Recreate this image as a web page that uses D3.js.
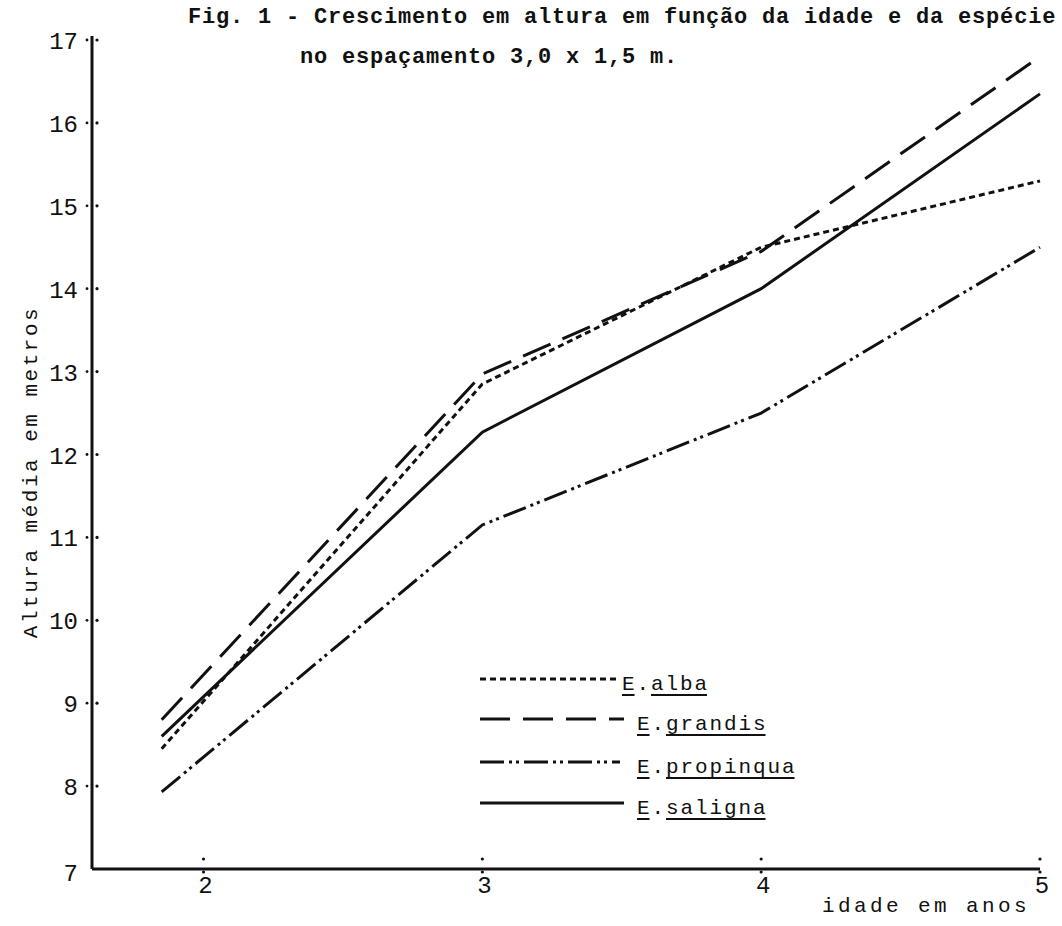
<!DOCTYPE html>
<html>
<head>
<meta charset="utf-8">
<script src="https://cdn.jsdelivr.net/npm/d3@7"></script>
<style>
  body { margin: 0; background: #fff; }
  svg text { font-family: "Liberation Mono", "DejaVu Sans Mono", monospace; fill: #111; }
</style>
</head>
<body>
<figure id="chart" style="margin:0"></figure>
<script>
const ages = [1.85, 3, 4, 5];
const alba = [8.45, 12.85, 14.5, 15.3];
const grandis = [8.8, 12.97, 14.45, 16.8];
const propinqua = [7.93, 11.15, 12.5, 14.5];
const saligna = [8.6, 12.27, 14.0, 16.35];
const xTicks = [2, 3, 4, 5];
const yTicks = [8, 9, 10, 11, 12, 13, 14, 15, 16, 17];
const seriesNames = ["E.alba", "E.grandis", "E.propinqua", "E.saligna"];

const width = 1062, height = 926;
const dashes = ["6,4", "30,13", "24,5,3,4,3,5", null];
const series = [alba, grandis, propinqua, saligna];

const svg = d3.select("figure#chart")
  .append("svg")
  .attr("width", width)
  .attr("height", height);

const x = d3.scaleLinear().domain([1.6, 5]).range([92, 1040]);
const y = d3.scaleLinear().domain([7, 17]).range([869, 40]);

// axes
svg.append("line")
  .attr("x1", x(1.6)).attr("x2", x(1.6))
  .attr("y1", y(17) - 4).attr("y2", y(7))
  .attr("stroke", "#111").attr("stroke-width", 3);
svg.append("line")
  .attr("x1", x(1.6)).attr("x2", x(5))
  .attr("y1", y(7)).attr("y2", y(7))
  .attr("stroke", "#111").attr("stroke-width", 3);

// Y ticks: dots next to the axis
const yg = svg.append("g");
yg.selectAll("circle.a").data(yTicks).enter().append("circle")
  .attr("cx", x(1.6) + 5).attr("cy", d => y(d)).attr("r", 1.6).attr("fill", "#111");
yg.selectAll("circle.b").data(yTicks).enter().append("circle")
  .attr("cx", x(1.6) - 5).attr("cy", d => y(d)).attr("r", 1.4).attr("fill", "#111");
yg.selectAll("text").data(yTicks.concat([7])).enter().append("text")
  .attr("x", x(1.6) - 14)
  .attr("y", d => y(d) + (d === 7 ? 12 : 9))
  .attr("text-anchor", "end")
  .attr("font-size", 24)
  .text(d => d);

// X ticks
const xg = svg.append("g");
xg.selectAll("circle.a").data(xTicks).enter().append("circle")
  .attr("cx", d => x(d)).attr("cy", y(7) - 10).attr("r", 1.6).attr("fill", "#111");
xg.selectAll("circle.b").data(xTicks).enter().append("circle")
  .attr("cx", d => x(d)).attr("cy", y(7) + 3).attr("r", 1.6).attr("fill", "#111");
xg.selectAll("text").data(xTicks).enter().append("text")
  .attr("x", d => x(d) + 2)
  .attr("y", y(7) + 24)
  .attr("text-anchor", "middle")
  .attr("font-size", 24)
  .text(d => d);

svg.append("text")
  .attr("x", 1030).attr("y", 912)
  .attr("text-anchor", "end")
  .attr("font-size", 21)
  .attr("letter-spacing", 3.4)
  .text("idade em anos");

svg.append("text")
  .attr("transform", "translate(37,472) rotate(-90)")
  .attr("text-anchor", "middle")
  .attr("font-size", 21)
  .attr("letter-spacing", 2.5)
  .text("Altura média em metros");

// title
svg.append("text")
  .attr("x", 188).attr("y", 23)
  .attr("font-size", 22)
  .attr("font-weight", "bold")
  .attr("letter-spacing", 0.8)
  .text("Fig. 1 - Crescimento em altura em função da idade e da espécie");
svg.append("text")
  .attr("x", 300).attr("y", 63)
  .attr("font-size", 22)
  .attr("font-weight", "bold")
  .attr("letter-spacing", 0.8)
  .text("no espaçamento 3,0 x 1,5 m.");

// lines
const line = d3.line().x((d, i) => x(ages[i])).y(d => y(d));
svg.append("g").selectAll("path").data(series).enter().append("path")
  .attr("d", d => line(d))
  .attr("fill", "none")
  .attr("stroke", "#111")
  .attr("stroke-width", 3)
  .attr("stroke-dasharray", (d, i) => dashes[i]);

// legend
const legY = [679, 719, 762, 803];
const legEnd = [620, 624, 620, 624];
const textX = [622, 637, 637, 637];
const leg = svg.append("g");
seriesNames.forEach((name, i) => {
  leg.append("line")
    .attr("x1", 480).attr("x2", legEnd[i])
    .attr("y1", legY[i]).attr("y2", legY[i])
    .attr("stroke", "#111").attr("stroke-width", 3)
    .attr("stroke-dasharray", dashes[i]);
  const t = leg.append("text")
    .attr("x", textX[i]).attr("y", legY[i] + 11)
    .attr("font-size", 21)
    .attr("letter-spacing", 1.9)
    .text(name);
  const w = t.node().getComputedTextLength();
  const charW = w / name.length;
  // underline: "E" and the species name, skipping the dot
  leg.append("line")
    .attr("x1", textX[i]).attr("x2", textX[i] + charW - 2)
    .attr("y1", legY[i] + 16).attr("y2", legY[i] + 16)
    .attr("stroke", "#111").attr("stroke-width", 2);
  leg.append("line")
    .attr("x1", textX[i] + charW * 2).attr("x2", textX[i] + w - 2)
    .attr("y1", legY[i] + 16).attr("y2", legY[i] + 16)
    .attr("stroke", "#111").attr("stroke-width", 2);
});
</script>
</body>
</html>
